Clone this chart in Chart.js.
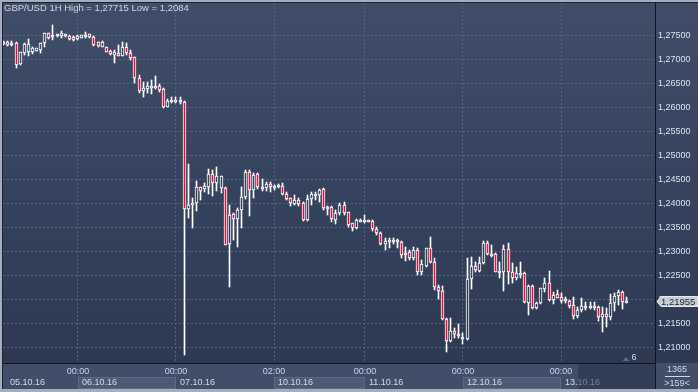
<!DOCTYPE html>
<html><head><meta charset="utf-8">
<script src="https://cdn.jsdelivr.net/npm/chart.js@4.4.0/dist/chart.umd.min.js"></script>
<style>html,body{margin:0;padding:0;background:#a6aebe;overflow:hidden}canvas{display:block}</style>
</head><body>
<canvas id="c" width="698" height="392"></canvas>
<script>
const opens = [
1.27313,1.27354,1.27298,1.27340,1.26890,1.27119,1.27140,1.27140,1.27173,1.27188,
1.27327,1.27535,1.27452,1.27479,1.27486,1.27479,1.27486,1.27465,1.27410,1.27444,
1.27465,1.27515,1.27465,1.27348,1.27256,1.27244,1.27173,1.27083,1.27131,1.27069,
1.27256,1.27131,1.27035,1.26598,1.26333,1.26369,1.26410,1.26417,1.26438,1.26375,
1.26006,1.26104,1.26125,1.26104,1.26110,1.23869,1.23965,1.23994,1.24327,1.24285,
1.24340,1.24598,1.24427,1.24313,1.24319,1.23140,1.23765,1.23667,1.23854,1.24119,
1.24640,1.24271,1.24598,1.24306,1.24306,1.24390,1.24319,1.24340,1.24360,1.24181,
1.24098,1.23979,1.24063,1.23994,1.23646,1.24077,1.24152,1.24167,1.24292,1.23890,
1.23923,1.23646,1.23785,1.23958,1.23806,1.23577,1.23473,1.23619,1.23625,1.23619,
1.23625,1.23452,1.23381,1.23140,1.23194,1.23194,1.23229,1.23181,1.22917,1.22986,
1.22848,1.23021,1.22569,1.22694,1.23056,1.22765,1.22244,1.22167,1.21577,1.21131,
1.21340,1.21265,1.21215,1.21160,1.22410,1.22694,1.22590,1.22744,1.23160,1.22917,
1.22931,1.22556,1.22569,1.23035,1.22569,1.22431,1.22515,1.22535,1.21917,1.22271,
1.21806,1.21910,1.22202,1.22327,1.21979,1.22098,1.22035,1.21958,1.21958,1.21875,
1.21646,1.21771,1.21827,1.21827,1.21819,1.21840,1.21631,1.21681,1.21631,1.21910,
1.22063,1.22152,1.21931];
const highs = [
1.27365,1.27365,1.27369,1.27354,1.27152,1.27327,1.27410,1.27244,1.27235,1.27333,
1.27548,1.27542,1.27715,1.27531,1.27583,1.27531,1.27500,1.27479,1.27494,1.27510,
1.27569,1.27531,1.27479,1.27354,1.27375,1.27260,1.27188,1.27188,1.27292,1.27348,
1.27327,1.27188,1.27042,1.26667,1.26527,1.26527,1.26563,1.26652,1.26473,1.26402,
1.26167,1.26202,1.26215,1.26202,1.26125,1.24813,1.24098,1.24465,1.24340,1.24410,
1.24708,1.24688,1.24756,1.24573,1.24340,1.23958,1.23785,1.23890,1.24327,1.24688,
1.24688,1.24619,1.24619,1.24494,1.24431,1.24431,1.24375,1.24396,1.24423,1.24223,
1.24110,1.24167,1.24110,1.24027,1.24167,1.24223,1.24235,1.24292,1.24319,1.23944,
1.23944,1.23854,1.23994,1.24027,1.23819,1.23590,1.23660,1.23660,1.23750,1.23656,
1.23646,1.23506,1.23402,1.23265,1.23277,1.23277,1.23244,1.23208,1.23090,1.23021,
1.23090,1.23056,1.22813,1.23073,1.23298,1.22848,1.22292,1.22271,1.21598,1.21598,
1.21390,1.21479,1.21285,1.22860,1.22881,1.22777,1.22881,1.23208,1.23208,1.23125,
1.22952,1.22777,1.23125,1.23160,1.22756,1.22673,1.22765,1.22556,1.22292,1.22292,
1.21944,1.22235,1.22444,1.22583,1.22152,1.22188,1.22123,1.22048,1.21979,1.22048,
1.21840,1.22027,1.21944,1.21931,1.21931,1.21854,1.21840,1.21806,1.22098,1.22119,
1.22188,1.22167,1.22048];
const lows = [
1.27292,1.27271,1.27271,1.26819,1.26875,1.27083,1.27069,1.27104,1.27161,1.27119,
1.27256,1.27423,1.27396,1.27458,1.27431,1.27469,1.27396,1.27385,1.27396,1.27438,
1.27431,1.27448,1.27271,1.27260,1.27250,1.27140,1.27083,1.26923,1.27063,1.27063,
1.27083,1.26979,1.26506,1.26298,1.26202,1.26298,1.26271,1.26375,1.26319,1.25985,
1.26006,1.26077,1.26090,1.26063,1.20840,1.23694,1.23485,1.23840,1.24063,1.24235,
1.24188,1.24146,1.24260,1.24219,1.23115,1.22256,1.23229,1.23090,1.23485,1.24083,
1.23735,1.24098,1.24292,1.24256,1.24250,1.24223,1.24271,1.24306,1.24167,1.24063,
1.23944,1.23958,1.23944,1.23625,1.23625,1.23958,1.24063,1.24027,1.23854,1.23750,
1.23610,1.23556,1.23750,1.23750,1.23506,1.23417,1.23458,1.23598,1.23590,1.23604,
1.23417,1.23333,1.23125,1.23021,1.23056,1.23140,1.23056,1.22848,1.22792,1.22813,
1.22813,1.22500,1.22500,1.22677,1.22744,1.22188,1.22000,1.21563,1.20890,1.21110,
1.21181,1.21181,1.21056,1.21146,1.22208,1.22569,1.22569,1.22723,1.22917,1.22881,
1.22556,1.22431,1.22167,1.22306,1.22327,1.22396,1.22431,1.21910,1.21667,1.21792,
1.21792,1.21890,1.22152,1.21958,1.21890,1.22015,1.21910,1.21910,1.21806,1.21577,
1.21598,1.21735,1.21771,1.21792,1.21771,1.21542,1.21319,1.21423,1.21563,1.21750,
1.21875,1.21792,1.21910];
const closes = [
1.27354,1.27286,1.27340,1.26875,1.27140,1.27306,1.27306,1.27223,1.27223,1.27327,
1.27535,1.27431,1.27500,1.27515,1.27535,1.27521,1.27410,1.27396,1.27486,1.27500,
1.27506,1.27465,1.27292,1.27271,1.27360,1.27152,1.27098,1.27140,1.27069,1.27256,
1.27119,1.27027,1.26598,1.26340,1.26402,1.26438,1.26438,1.26438,1.26354,1.26006,
1.26125,1.26146,1.26146,1.26146,1.23869,1.23958,1.23994,1.24327,1.24256,1.24354,
1.24598,1.24423,1.24567,1.24567,1.23125,1.23750,1.23667,1.23854,1.24119,1.24640,
1.24271,1.24583,1.24327,1.24340,1.24390,1.24327,1.24354,1.24375,1.24181,1.24077,
1.23994,1.24063,1.23979,1.23646,1.24083,1.24181,1.24181,1.24271,1.23902,1.23923,
1.23667,1.23785,1.23958,1.23798,1.23542,1.23473,1.23646,1.23646,1.23646,1.23646,
1.23452,1.23369,1.23140,1.23215,1.23223,1.23229,1.23181,1.22917,1.22952,1.22848,
1.23021,1.22569,1.22729,1.23056,1.22765,1.22244,1.22167,1.21577,1.21131,1.21333,
1.21265,1.21223,1.21160,1.22410,1.22694,1.22604,1.22744,1.23160,1.22938,1.22938,
1.22569,1.22583,1.23035,1.22569,1.22431,1.22535,1.22535,1.21944,1.22271,1.21806,
1.21910,1.22223,1.22327,1.21979,1.22083,1.22027,1.21965,1.21994,1.21860,1.21646,
1.21771,1.21860,1.21860,1.21860,1.21860,1.21631,1.21681,1.21631,1.21910,1.22063,
1.22152,1.21944,1.21955];
const yTickValues = [1.210,1.215,1.220,1.225,1.230,1.235,1.240,1.245,1.250,1.255,1.260,1.265,1.270,1.275];
const sessionIndex = [18,42,66,88,112,136];
const sessionTimes = ['00:00','00:00','02:00','00:00','00:00','00:00'];
const dayLabels = ['05.10.16','06.10.16','07.10.16','10.10.16','11.10.16','12.10.16','13.10.16'];
const titleText = 'GBP/USD 1H High = 1,27715 Low = 1,2084';
const infoLines = ['1365','>159<'];
const barsRight = '6';

const FONT = '"Liberation Sans", Arial, sans-serif';
const RED = '#e3113f';
const GRID = '#56647f';
let bgGrad = null;
function gradFor(ctx){
  if(!bgGrad){
    bgGrad = ctx.createLinearGradient(0,3,0,363);
    bgGrad.addColorStop(0,'#3f4d69');
    bgGrad.addColorStop(1,'#2d3953');
  }
  return bgGrad;
}
const fmt = v => v.toFixed(5).replace('.', ',');

const framePlugin = {
  id:'frame',
  beforeDraw(chart){
    const c = chart.ctx, a = chart.chartArea, W = chart.width, H = chart.height;
    c.save();
    c.fillStyle = '#a6aebe'; c.fillRect(0,0,W,H);
    c.fillStyle = '#1c2230'; c.fillRect(2,2,W-2,1); c.fillRect(2,2,1,387);
    c.fillStyle = gradFor(c); c.fillRect(3,3,W-3,a.bottom-3);
    c.fillStyle = '#404e69'; c.fillRect(3,a.bottom,W-3,26);
    const xs = chart.scales.x;
    const gp = sessionIndex.map(v => Math.round(xs.getPixelForValue(v)));
    for(let i=1;i<dayLabels.length-1;i+=2){
      const s = gp[i-1], e = gp[i];
      c.fillStyle = '#4c5a76'; c.fillRect(s,377,e-s,12);
      c.strokeStyle = '#5c6a86'; c.lineWidth = 1; c.strokeRect(s+0.5,377.5,e-s-1,11);
    }
    c.restore();
  },
  beforeDatasetsDraw(chart){
    chart.getSortedVisibleDatasetMetas().forEach(meta => {
      const body = meta.index === 0;
      meta.data.forEach(el => {
        el.x = Math.floor(el.x) + 0.5;
        let t = Math.round(Math.min(el.y, el.base)), b = Math.round(Math.max(el.y, el.base));
        if(body && b - t < 2) b = t + 2;
        el.y = t; el.base = b;
      });
    });
  },
  afterDraw(chart){
    const c = chart.ctx, a = chart.chartArea, W = chart.width;
    const xs = chart.scales.x, ys = chart.scales.y;
    c.save();
    c.fillStyle = '#10141c';
    c.fillRect(3, a.bottom, a.right-3, 1);
    c.fillRect(a.right, 3, 1, 386);
    c.fillStyle = '#a6aebe'; c.fillRect(0,389,W,3);
    // title
    c.font = '9.5px ' + FONT; c.textBaseline = 'middle'; c.textAlign = 'left';
    c.fillStyle = '#cfd7e6'; c.fillText(titleText, 4, 8.5);
    c.font = '9px ' + FONT;
    // x labels
    const gp = sessionIndex.map(v => Math.round(xs.getPixelForValue(v)));
    c.textAlign = 'center'; c.fillStyle = '#c4d4ee';
    gp.forEach((x,i) => c.fillText(sessionTimes[i], x, 371.5));
    c.textAlign = 'left'; c.fillStyle = '#d3dae8';
    dayLabels.forEach((d,i) => {
      const x = i === 0 ? 10 : gp[i-1] + 4;
      c.fillText(d, x, 382.5);
    });
    c.fillStyle = 'rgba(38,48,72,0.55)'; c.fillRect(578,364,a.right-578,25);
    // bars-to-right marker
    c.fillStyle = '#5d6b86';
    c.beginPath(); c.moveTo(622.5,361); c.lineTo(629.5,361); c.lineTo(626,357); c.closePath(); c.fill();
    c.fillStyle = '#d0dcf0'; c.textAlign = 'center'; c.fillText(barsRight, 634, 358);
    // info box
    c.fillStyle = '#d0d8e8';
    c.fillText(infoLines[0], 677, 370);
    c.fillRect(665, 376, 25, 1);
    c.fillText(infoLines[1], 677, 383.5);
    // price box
    const last = closes[closes.length-1];
    const py = Math.round(ys.getPixelForValue(last)) + 0.5;
    c.beginPath();
    c.moveTo(a.right+2, py); c.lineTo(a.right+6, py-5); c.lineTo(W, py-5); c.lineTo(W, py+5); c.lineTo(a.right+6, py+5); c.closePath();
    c.fillStyle = '#c9cdd6'; c.fill();
    c.strokeStyle = '#e6e9ef'; c.lineWidth = 1; c.stroke();
    c.fillStyle = '#1b2233'; c.textAlign = 'left'; c.font = '9.5px ' + FONT;
    c.fillText(fmt(last), a.right+6, py+0.5);
    c.restore();
  }
};

const bodyData = opens.map((o,i) => ({x:i, y:[o, closes[i]]}));
const wickData = lows.map((l,i) => ({x:i, y:[l, highs[i]]}));

new Chart(document.getElementById('c'), {
  type:'bar',
  data:{datasets:[
    {label:'body', data:bodyData, order:0, grouped:false, barThickness:3,
     backgroundColor: ctx => (closes[ctx.dataIndex] < opens[ctx.dataIndex]) ? RED : gradFor(ctx.chart.ctx),
     borderColor:'#ffffff', borderWidth:1, borderSkipped:false},
    {label:'wick', data:wickData, order:1, grouped:false, barThickness:1,
     backgroundColor:'#ffffff', borderWidth:0}
  ]},
  options:{
    responsive:false, animation:false, devicePixelRatio:1,
    layout:{padding:{left:3, top:3, right:0, bottom:0}},
    plugins:{legend:{display:false}, tooltip:{enabled:false}},
    scales:{
      x:{type:'linear', min:-0.171, max:158.85, offset:false,
         afterBuildTicks: s => { s.ticks = sessionIndex.map(v => ({value:v})); },
         ticks:{display:false},
         grid:{color:GRID, drawTicks:false, lineWidth:1, offset:false},
         border:{display:false, dash:[2,2]},
         afterFit: s => { s.height = 29; s.paddingLeft = 0; s.paddingRight = 0; }},
      y:{type:'linear', position:'right', min:1.20667, max:1.28167,
         afterBuildTicks: s => { s.ticks = yTickValues.map(v => ({value:v})); },
         ticks:{color:'#dbe2ee', font:{family:FONT, size:9}, padding:3, autoSkip:false,
                callback: v => fmt(v)},
         grid:{color:GRID, drawTicks:false, lineWidth:1, offset:false},
         border:{display:false, dash:[2,2]},
         afterFit: s => { s.width = 43; s.paddingTop = 0; s.paddingBottom = 0; }}
    }
  },
  plugins:[framePlugin]
});
</script>
</body></html>
